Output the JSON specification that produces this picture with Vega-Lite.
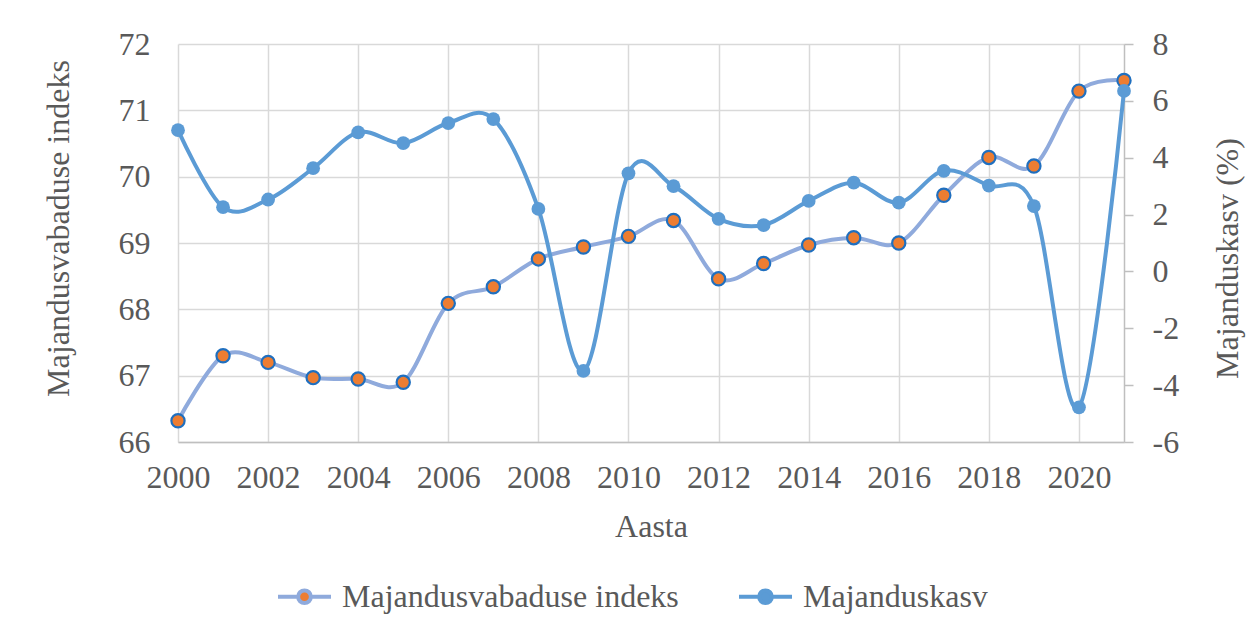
{
  "$schema": "https://vega.github.io/schema/vega-lite/v6.json",
  "width": 946,
  "height": 398,
  "autosize": "none",
  "padding": {"left": 178, "top": 44, "right": 122, "bottom": 188},
  "background": "white",
  "config": {
    "font": "Liberation Serif, Times New Roman, DejaVu Serif, serif",
    "view": {"stroke": null},
    "axis": {
      "labelFont": "Liberation Serif, Times New Roman, DejaVu Serif, serif",
      "titleFont": "Liberation Serif, Times New Roman, DejaVu Serif, serif",
      "labelFontSize": 32,
      "titleFontSize": 32,
      "labelColor": "#595959",
      "titleColor": "#595959",
      "titleFontWeight": "normal",
      "gridColor": "#D9D9D9",
      "gridWidth": 1.5,
      "labelOverlap": false,
      "labelFlush": false,
      "labelBound": false
    },
    "legend": {
      "labelFont": "Liberation Serif, Times New Roman, DejaVu Serif, serif",
      "labelFontSize": 32,
      "labelColor": "#595959",
      "labelLimit": 0
    }
  },
  "data": {
    "values": [
      {"aasta": 2000, "seeria": "Majandusvabaduse indeks", "vaartus": 66.32},
      {"aasta": 2001, "seeria": "Majandusvabaduse indeks", "vaartus": 67.30},
      {"aasta": 2002, "seeria": "Majandusvabaduse indeks", "vaartus": 67.20},
      {"aasta": 2003, "seeria": "Majandusvabaduse indeks", "vaartus": 66.97},
      {"aasta": 2004, "seeria": "Majandusvabaduse indeks", "vaartus": 66.95},
      {"aasta": 2005, "seeria": "Majandusvabaduse indeks", "vaartus": 66.90},
      {"aasta": 2006, "seeria": "Majandusvabaduse indeks", "vaartus": 68.09},
      {"aasta": 2007, "seeria": "Majandusvabaduse indeks", "vaartus": 68.34},
      {"aasta": 2008, "seeria": "Majandusvabaduse indeks", "vaartus": 68.76},
      {"aasta": 2009, "seeria": "Majandusvabaduse indeks", "vaartus": 68.94},
      {"aasta": 2010, "seeria": "Majandusvabaduse indeks", "vaartus": 69.10},
      {"aasta": 2011, "seeria": "Majandusvabaduse indeks", "vaartus": 69.34},
      {"aasta": 2012, "seeria": "Majandusvabaduse indeks", "vaartus": 68.46},
      {"aasta": 2013, "seeria": "Majandusvabaduse indeks", "vaartus": 68.69},
      {"aasta": 2014, "seeria": "Majandusvabaduse indeks", "vaartus": 68.97},
      {"aasta": 2015, "seeria": "Majandusvabaduse indeks", "vaartus": 69.08},
      {"aasta": 2016, "seeria": "Majandusvabaduse indeks", "vaartus": 69.00},
      {"aasta": 2017, "seeria": "Majandusvabaduse indeks", "vaartus": 69.72},
      {"aasta": 2018, "seeria": "Majandusvabaduse indeks", "vaartus": 70.29},
      {"aasta": 2019, "seeria": "Majandusvabaduse indeks", "vaartus": 70.16},
      {"aasta": 2020, "seeria": "Majandusvabaduse indeks", "vaartus": 71.29},
      {"aasta": 2021, "seeria": "Majandusvabaduse indeks", "vaartus": 71.45},
      {"aasta": 2000, "seeria": "Majanduskasv", "vaartus": 4.97},
      {"aasta": 2001, "seeria": "Majanduskasv", "vaartus": 2.26},
      {"aasta": 2002, "seeria": "Majanduskasv", "vaartus": 2.53},
      {"aasta": 2003, "seeria": "Majanduskasv", "vaartus": 3.63},
      {"aasta": 2004, "seeria": "Majanduskasv", "vaartus": 4.89},
      {"aasta": 2005, "seeria": "Majanduskasv", "vaartus": 4.51},
      {"aasta": 2006, "seeria": "Majanduskasv", "vaartus": 5.22},
      {"aasta": 2007, "seeria": "Majanduskasv", "vaartus": 5.36},
      {"aasta": 2008, "seeria": "Majanduskasv", "vaartus": 2.20},
      {"aasta": 2009, "seeria": "Majanduskasv", "vaartus": -3.50},
      {"aasta": 2010, "seeria": "Majanduskasv", "vaartus": 3.45},
      {"aasta": 2011, "seeria": "Majanduskasv", "vaartus": 3.00},
      {"aasta": 2012, "seeria": "Majanduskasv", "vaartus": 1.85},
      {"aasta": 2013, "seeria": "Majanduskasv", "vaartus": 1.63},
      {"aasta": 2014, "seeria": "Majanduskasv", "vaartus": 2.48},
      {"aasta": 2015, "seeria": "Majanduskasv", "vaartus": 3.12},
      {"aasta": 2016, "seeria": "Majanduskasv", "vaartus": 2.42},
      {"aasta": 2017, "seeria": "Majanduskasv", "vaartus": 3.54},
      {"aasta": 2018, "seeria": "Majanduskasv", "vaartus": 3.02},
      {"aasta": 2019, "seeria": "Majanduskasv", "vaartus": 2.30},
      {"aasta": 2020, "seeria": "Majanduskasv", "vaartus": -4.78},
      {"aasta": 2021, "seeria": "Majanduskasv", "vaartus": 6.35}
    ]
  },
  "encoding": {
    "x": {
      "field": "aasta",
      "type": "quantitative",
      "scale": {"domain": [2000, 2021], "nice": false, "zero": false},
      "axis": {
        "title": "Aasta",
        "values": [2000, 2002, 2004, 2006, 2008, 2010, 2012, 2014, 2016, 2018, 2020],
        "format": "d",
        "grid": true,
        "ticks": false,
        "domainColor": "#BFBFBF",
        "domainWidth": 1.5,
        "labelPadding": 20,
        "titlePadding": 18
      }
    }
  },
  "layer": [
    {
      "transform": [{"filter": "datum.seeria === 'Majandusvabaduse indeks'"}],
      "encoding": {
        "y": {
          "field": "vaartus",
          "type": "quantitative",
          "scale": {"domain": [66, 72], "nice": false, "zero": false},
          "axis": {
            "title": "Majandusvabaduse indeks",
            "orient": "left",
            "values": [66, 67, 68, 69, 70, 71, 72],
            "grid": true,
            "ticks": false,
            "domain": false,
            "labelPadding": 28,
            "titleX": -120,
            "titleY": 184,
            "titleAngle": 270,
            "titleAlign": "center",
            "titleBaseline": "middle"
          }
        }
      },
      "layer": [
        {
          "mark": {"type": "line", "interpolate": "cardinal", "strokeWidth": 4},
          "encoding": {
            "stroke": {
              "field": "seeria",
              "type": "nominal",
              "scale": {"domain": ["Majandusvabaduse indeks", "Majanduskasv"], "range": ["#8FAADC", "#5B9BD5"]},
              "legend": {
                "title": null,
                "orient": "none",
                "direction": "horizontal",
                "legendX": 98,
                "legendY": 524,
                "symbolType": "M-1,0L-0.24,0M0.24,0L1,0M0.24,0A0.24,0.24,0,1,1,-0.24,0A0.24,0.24,0,1,1,0.24,0Z",
                "symbolSize": 2809,
                "symbolStrokeWidth": 4,
                "labelOffset": 9,
                "columnPadding": 52,
                "encode": {
                  "symbols": {"update": {"fill": {"scale": "fill", "field": "value"}}}
                }
              }
            }
          }
        },
        {
          "mark": {"type": "point", "filled": true, "size": 175, "strokeWidth": 2.2, "opacity": 1},
          "encoding": {
            "fill": {
              "field": "seeria",
              "type": "nominal",
              "scale": {"domain": ["Majandusvabaduse indeks", "Majanduskasv"], "range": ["#ED7D31", "#5B9BD5"]},
              "legend": null
            },
            "stroke": {"value": "#1F6FBF"}
          }
        }
      ]
    },
    {
      "transform": [{"filter": "datum.seeria === 'Majanduskasv'"}],
      "encoding": {
        "y": {
          "field": "vaartus",
          "type": "quantitative",
          "scale": {"domain": [-6, 8], "nice": false, "zero": false},
          "axis": {
            "title": "Majanduskasv (%)",
            "orient": "right",
            "values": [-6, -4, -2, 0, 2, 4, 6, 8],
            "labelExpr": "datum.value + ''",
            "grid": false,
            "ticks": true,
            "tickSize": 9,
            "tickColor": "#BFBFBF",
            "tickWidth": 1.5,
            "domain": true,
            "domainColor": "#BFBFBF",
            "domainWidth": 1.5,
            "labelAlign": "left",
            "labelPadding": 19,
            "titleX": 103,
            "titleY": 214,
            "titleAngle": 270,
            "titleAlign": "center",
            "titleBaseline": "middle"
          }
        }
      },
      "layer": [
        {
          "mark": {"type": "line", "interpolate": "cardinal", "strokeWidth": 4},
          "encoding": {
            "stroke": {"field": "seeria", "type": "nominal"}
          }
        },
        {
          "mark": {"type": "point", "filled": true, "size": 190, "strokeWidth": 0, "opacity": 1},
          "encoding": {
            "fill": {"field": "seeria", "type": "nominal", "legend": null}
          }
        }
      ]
    }
  ],
  "resolve": {"scale": {"y": "independent"}}
}
